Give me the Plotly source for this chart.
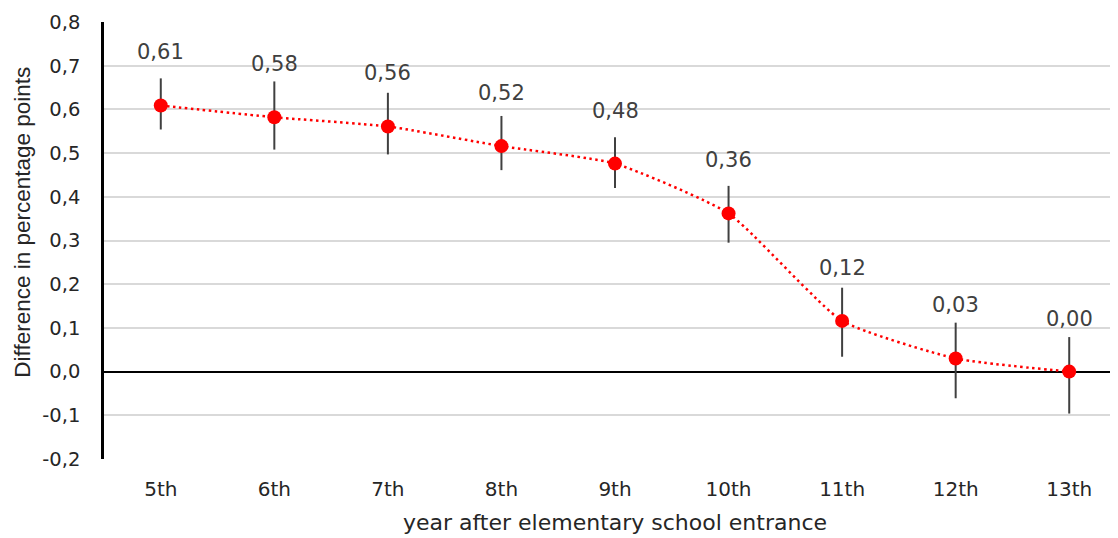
import plotly.graph_objects as go

categories = ["5th", "6th", "7th", "8th", "9th", "10th", "11th", "12th", "13th"]
values = [0.609, 0.582, 0.561, 0.516, 0.476, 0.362, 0.116, 0.030, 0.000]
upper = [0.671, 0.664, 0.638, 0.585, 0.536, 0.425, 0.192, 0.112, 0.079]
lower = [0.554, 0.508, 0.497, 0.461, 0.420, 0.295, 0.034, -0.061, -0.096]
y_ticks = [-0.2, -0.1, 0.0, 0.1, 0.2, 0.3, 0.4, 0.5, 0.6, 0.7, 0.8]

err_plus = [u - v for u, v in zip(upper, values)]
err_minus = [v - l for v, l in zip(values, lower)]
labels = [f"{v:.2f}".replace(".", ",") for v in values]
tick_text = [f"{t:.1f}".replace(".", ",") for t in y_ticks]

FONT = "DejaVu Sans, Verdana, sans-serif"
FONT2 = "Liberation Sans, Arial, sans-serif"
TXT = "#404040"
TICK = "#262626"

fig = go.Figure()
fig.add_trace(go.Scatter(
    x=categories, y=values,
    mode="lines+markers",
    line=dict(color="red", width=2.5, dash="2.5px,3.5px", shape="spline", smoothing=0.5),
    marker=dict(color="red", size=14, symbol="circle"),
    error_y=dict(type="data", symmetric=False, array=err_plus, arrayminus=err_minus,
                 color="#404040", thickness=2, width=0),
    showlegend=False,
))

for c, v, t in zip(categories, values, labels):
    fig.add_annotation(x=c, y=v, text=t, showarrow=False, yanchor="bottom",
                       yshift=39, font=dict(family=FONT, size=21, color=TXT))

fig.add_annotation(xref="paper", yref="paper", x=-0.0797, y=0.542, xanchor="center",
                   yanchor="middle", textangle=-90, showarrow=False,
                   text="Difference in percentage points",
                   font=dict(family=FONT2, size=22.5, color=TICK))

fig.update_layout(
    width=1118, height=538,
    margin=dict(l=96, r=0, t=14, b=87),
    plot_bgcolor="white", paper_bgcolor="white",
    font=dict(family=FONT, color=TXT),
)
fig.update_xaxes(
    range=[-0.5, 8.5], showgrid=False, showline=False, zeroline=False,
    automargin=False,
    tickfont=dict(family=FONT, size=20, color=TICK),
    ticks="", ticklabelstandoff=16,
    title=dict(text="year after elementary school entrance",
               font=dict(family=FONT, size=22, color=TICK), standoff=14),
)
fig.update_yaxes(
    range=[-0.2, 0.8], tickvals=y_ticks, ticktext=tick_text,
    showgrid=True, gridcolor="#d9d9d9", gridwidth=1.5,
    zeroline=True, zerolinecolor="#000000", zerolinewidth=2,
    showline=True, linecolor="#000000", linewidth=2.5,
    automargin=False,
    tickfont=dict(family=FONT, size=19.5, color=TICK),
    ticks="", ticklabelstandoff=17,
)

fig.write_html("out.html")
